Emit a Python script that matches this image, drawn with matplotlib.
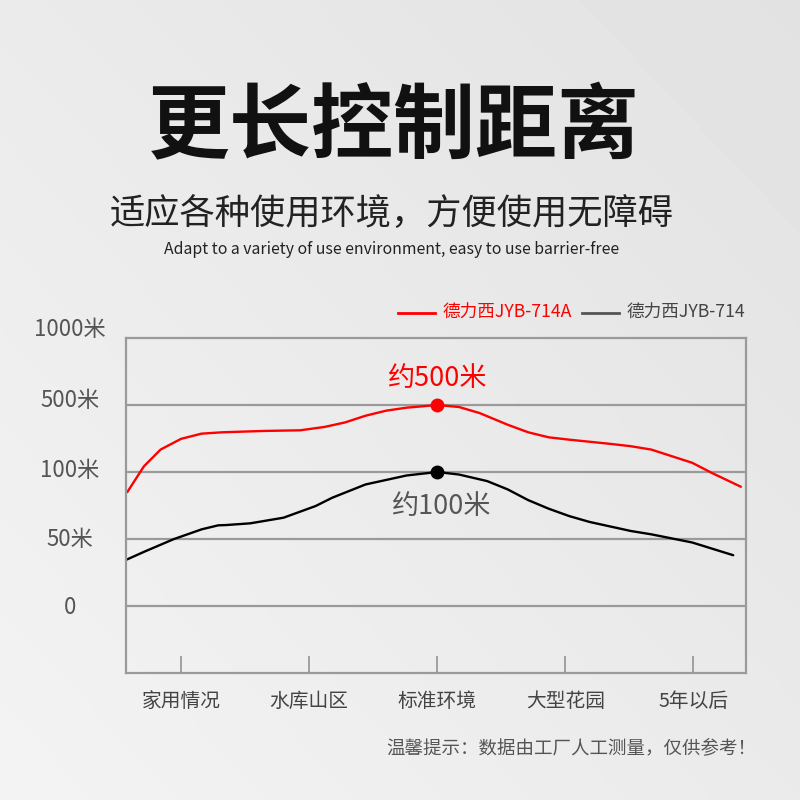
import numpy as np
import matplotlib
matplotlib.use("Agg")
import matplotlib.pyplot as plt
from matplotlib.lines import Line2D
from matplotlib.transforms import blended_transform_factory

plt.rcParams["font.family"] = ["Noto Sans CJK SC", "DejaVu Sans"]

# --- data ---------------------------------------------------------------
categories = ["家用情况", "水库山区", "标准环境", "大型花园", "5年以后"]
y_levels = [0, 50, 100, 500, 1000]
y_labels = ["0", "50米", "100米", "500米", "1000米"]

series_a_name = "德力西JYB-714A"
a_x = [-0.42, -0.29, -0.16, 0.0, 0.16, 0.32, 0.64, 0.93, 1.12, 1.28, 1.44,
       1.6, 1.76, 2.0, 2.17, 2.33, 2.55, 2.71, 2.87, 3.03, 3.35, 3.51, 3.67,
       3.99, 4.15, 4.37]
a_y = [85, 134, 234, 298, 329, 337, 345, 349, 369, 396, 436, 466, 484, 500,
       488, 452, 382, 337, 307, 293, 268, 254, 234, 155, 99, 89]

series_b_name = "德力西JYB-714"
b_x = [-0.43, -0.29, -0.06, 0.16, 0.29, 0.35, 0.54, 0.8, 1.05, 1.18, 1.44,
       1.76, 2.0, 2.17, 2.39, 2.55, 2.71, 2.87, 3.03, 3.19, 3.51, 3.67, 3.99,
       4.31]
b_y = [34.4, 40.4, 49.8, 57.2, 60.2, 60.4, 61.7, 65.9, 74.6, 80.8, 90.7,
       97.4, 100, 98.1, 93.2, 87, 79, 72.6, 67.1, 62.7, 56, 53.5, 47.4, 37.9]

peak_x = 2
peak_a = 500
peak_b = 100

# uneven axis: each labelled level gets the same height
scale_vals = [-50, 0, 50, 100, 500, 1000]
scale_pos = [-1, 0, 1, 2, 3, 4]


def fwd(v):
    return np.interp(v, scale_vals, scale_pos)


def inv(p):
    return np.interp(p, scale_pos, scale_vals)


fig = plt.figure(figsize=(8, 8), dpi=100)

# soft grey background, darker to the top right
bg = fig.add_axes([0, 0, 1, 1], zorder=-10)
gx, gy = np.meshgrid(np.linspace(0, 1, 200), np.linspace(0, 1, 200))
shade = 0.92 - 0.035 * gx + 0.033 * gy
bg.imshow(shade, cmap="gray", vmin=0, vmax=1, aspect="auto",
          extent=[0, 1, 0, 1], origin="upper")
bg.axis("off")

# headings
fig.text(0.4925, 0.839, "更长控制距离", ha="center", va="center",
         fontsize=59, fontweight="heavy", color="#111111")
fig.text(0.489, 0.732, "适应各种使用环境，方便使用无障碍", ha="center", va="center",
         fontsize=25.4, fontweight="light", color="#222222")
fig.text(0.49, 0.688, "Adapt to a variety of use environment, easy to use barrier-free",
         ha="center", va="center", fontsize=11.4, color="#222222")

ax = fig.add_axes([126 / 800, 1 - 673 / 800, 620 / 800, 335 / 800])
ax.set_facecolor("none")
ax.set_yscale("function", functions=(fwd, inv))
ax.set_ylim(-50, 1000)
ax.set_xlim(-0.43, 4.41)

grid_col = "#9a9a9a"
for s in ax.spines.values():
    s.set_color(grid_col)
    s.set_linewidth(1.6)

ax.set_yticks(y_levels[:-1])
ax.yaxis.grid(True, color=grid_col, linewidth=1.6)
ax.tick_params(axis="y", length=0, labelleft=False)
ax.set_xticks(range(len(categories)))
ax.set_xticklabels(categories, fontsize=14.2, color="#444444")
ax.tick_params(axis="x", direction="in", length=12, width=1.3,
               color=grid_col, pad=13)

# y labels sit a little above their lines near the top
ytr = blended_transform_factory(ax.transAxes, ax.transData)
nudge = [-1, 0, 1, 3, 6]
for lv, lab, dy in zip(y_levels, y_labels, nudge):
    ax.annotate(lab, (-0.0903, lv), xycoords=ytr, xytext=(0, dy),
                textcoords="offset points", ha="center", va="center",
                fontsize=16, color="#555555", annotation_clip=False)

ax.plot(a_x, a_y, color="#ff0000", linewidth=1.7, solid_capstyle="round")
ax.plot(b_x, b_y, color="#000000", linewidth=1.7, solid_capstyle="round")
ax.plot([peak_x], [peak_a], "o", color="#ff0000", markersize=9)
ax.plot([peak_x], [peak_b], "o", color="#000000", markersize=9)

ax.annotate("约500米", (peak_x, peak_a), xytext=(0, 19), textcoords="offset points",
            ha="center", va="center", fontsize=19.5, color="#ff0000")
ax.annotate("约100米", (peak_x, peak_b), xytext=(3.5, -25), textcoords="offset points",
            ha="center", va="center", fontsize=19.5, color="#555555")

# legend drawn by hand above the plot
fig.add_artist(Line2D([398 / 800, 435 / 800], [1 - 313 / 800] * 2,
                      color="#ff0000", linewidth=2))
fig.text(442 / 800, 1 - 313 / 800, series_a_name, ha="left", va="center",
         fontsize=12.7, color="#ff0000")
fig.add_artist(Line2D([582 / 800, 619 / 800], [1 - 313 / 800] * 2,
                      color="#555555", linewidth=2))
fig.text(626 / 800, 1 - 313 / 800, series_b_name, ha="left", va="center",
         fontsize=12.7, color="#444444")

fig.text(756 / 800, 1 - 748 / 800, "温馨提示：数据由工厂人工测量，仅供参考！",
         ha="right", va="center", fontsize=13.3, color="#555555")

fig.savefig("out.png", dpi=100)
